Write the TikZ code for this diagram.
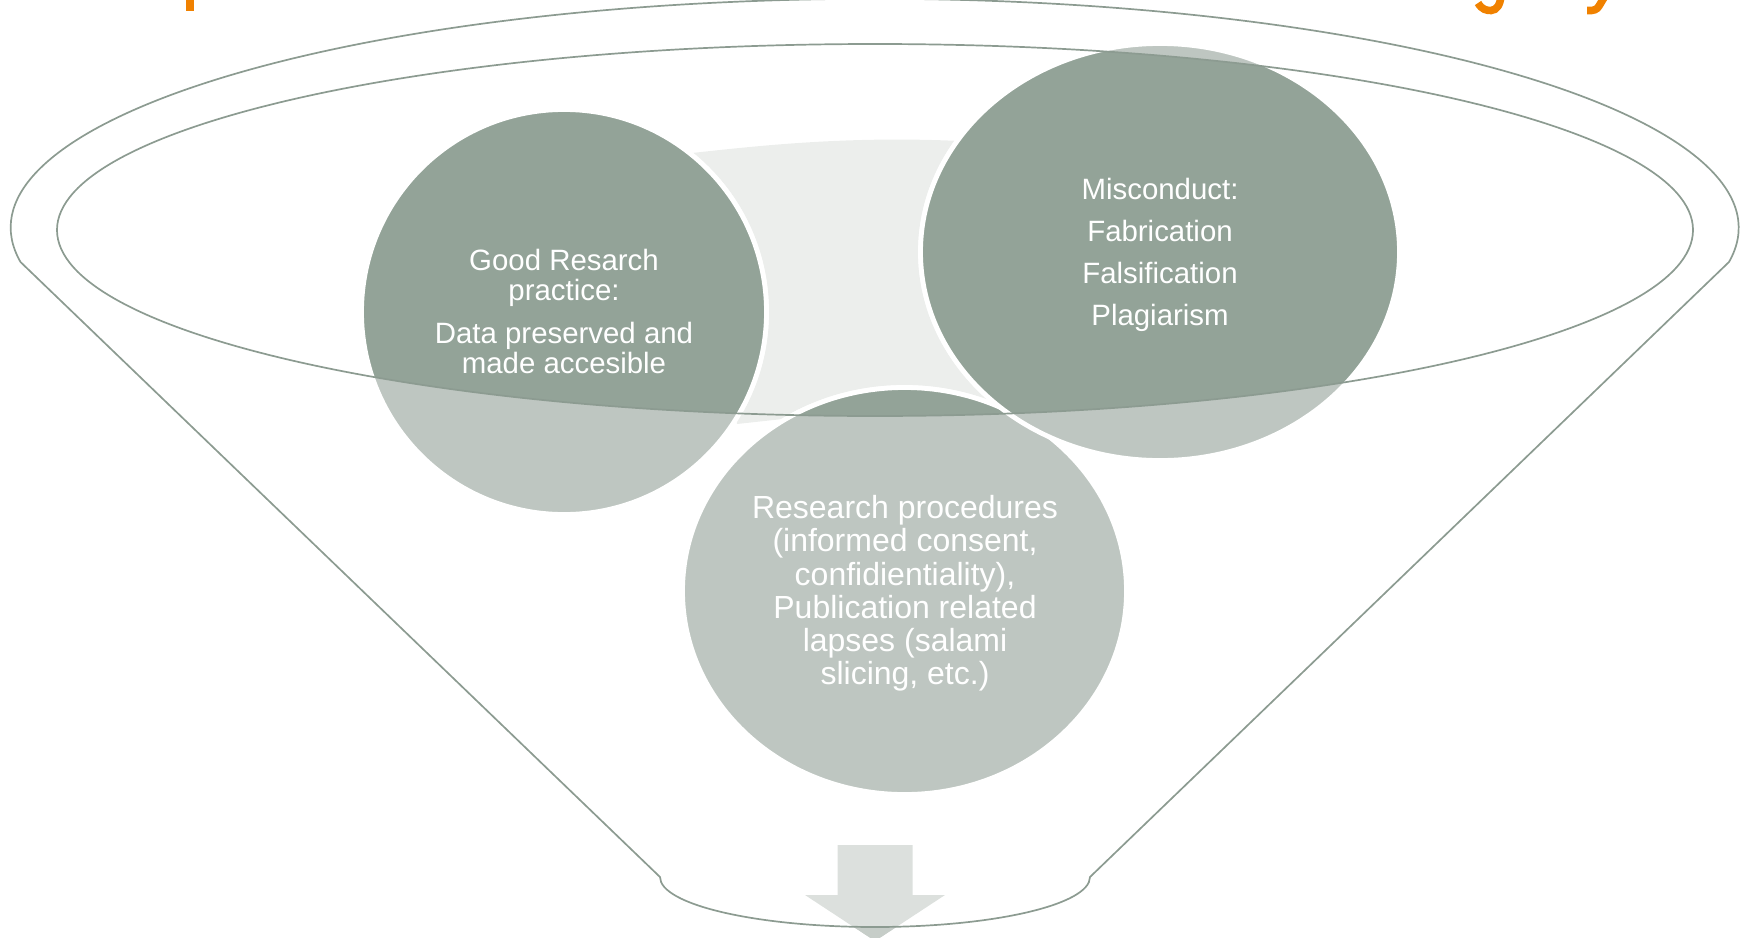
\documentclass[tikz,border=0pt]{standalone}
\usepackage{fontspec}
\setmainfont{Liberation Sans}
\definecolor{darkfill}{HTML}{93A398}
\definecolor{lightfill}{HTML}{BEC6C1}
\definecolor{bgtri}{HTML}{ECEEEC}
\definecolor{funline}{HTML}{8C9B91}
\definecolor{arrowlight}{HTML}{DCE0DD}
\definecolor{arrowdark}{HTML}{C6CDC8}
\definecolor{titleorange}{HTML}{F08100}
\tikzset{
  circ/.style={draw=white, line width=2.4pt},
  funstroke/.style={draw=funline, line width=0.85pt},
  txt/.style={text=white, align=center, inner sep=0pt},
  frag/.style={draw=titleorange, line width=3.8pt}
}
\begin{document}
\begin{tikzpicture}[x=0.5pt,y=-0.5pt]
\useasboundingbox (0,0) rectangle (1749,937);
\clip (0,0) rectangle (1749,937);

% cut-off title fragments (descenders)
\draw[frag] (190,-6) -- (190,11);
\draw[frag] (1478,3) .. controls (1482,10) and (1487,10.5) .. (1491,10.5) .. controls (1497,10) and (1500,5) .. (1501,-4);
\draw[frag] (1605,-4) -- (1599,6) .. controls (1597,9.5) and (1594,11) .. (1587,10.5);

% light background shape
\fill[bgtri] (692,153) .. controls (765,145) and (850,136) .. (960,141)
  -- (1010,400) -- (792,418) -- (737,424) -- cycle;

% circles (light version)
\coordinate (cB) at (904.5,591);
\coordinate (cL) at (564,312);
\coordinate (cR) at (1160,252);
\path[circ, fill=lightfill] (cB) ellipse [x radius=222, y radius=203.5];
\path[circ, fill=lightfill] (cL) circle [radius=202.5];
\path[circ, fill=lightfill] (cR) ellipse [x radius=239.5, y radius=208.5];

% circles (dark version inside the funnel mouth)
\begin{scope}
  \clip (875,230) ellipse [x radius=818, y radius=186];
  \path[circ, fill=darkfill] (cB) ellipse [x radius=222, y radius=203.5];
  \path[circ, fill=darkfill] (cL) circle [radius=202.5];
  \path[circ, fill=darkfill] (cR) ellipse [x radius=239.5, y radius=208.5];
\end{scope}

% down arrow
\fill[arrowlight] (837.5,845) -- (912.5,845) -- (912.5,895) -- (945,895)
  -- (875,941) -- (805,895) -- (837.5,895) -- cycle;
\begin{scope}
  \clip (660,877) arc[start angle=180, end angle=0, x radius=215, y radius=50]
    -- (1100,1000) -- (650,1000) -- cycle;
  \fill[arrowdark] (837.5,845) -- (912.5,845) -- (912.5,895) -- (945,895)
    -- (875,941) -- (805,895) -- (837.5,895) -- cycle;
\end{scope}

% funnel outline
\draw[funstroke] (20.5,262) arc[start angle=171.4, end angle=368.6, x radius=864, y radius=229]
  -- (1090,877) arc[start angle=0, end angle=180, x radius=215, y radius=50] -- cycle;
\draw[funstroke] (875,230) ellipse [x radius=818, y radius=186];

% texts
\node[txt, font={\fontsize{14.7}{15}\selectfont}] (good) at (564,311)
  {Good Resarch\\practice:\\[6.5pt]Data preserved and\\made accesible};
\node[txt, font={\fontsize{14.7}{21.1}\selectfont}] (mis) at (1160,255)
  {Misconduct:\\Fabrication\\Falsification\\Plagiarism};
\node[txt, font={\fontsize{16}{16.6}\selectfont}] (proc) at (905,593.5)
  {Research procedures\\(informed consent,\\confidientiality),\\Publication related\\lapses (salami\\slicing, etc.)};
\end{tikzpicture}
\end{document}
